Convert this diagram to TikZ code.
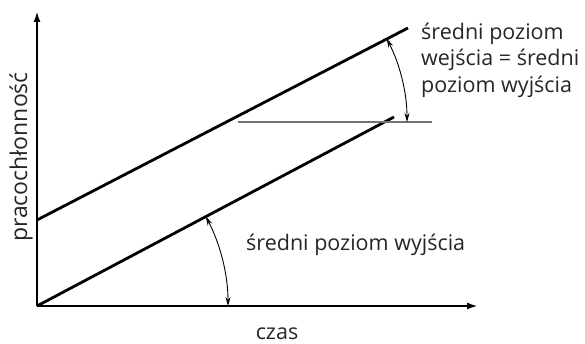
\documentclass[tikz,border=0pt]{standalone}
\usepackage{fontspec}
\setmainfont{Open Sans}
\usetikzlibrary{arrows.meta, positioning}
\colorlet{txtgray}{black!85}

\begin{document}
\begin{tikzpicture}[x=1pt, y=1pt,
    axis/.style={line width=2.2pt, -{Latex[length=11pt, width=7pt]}},
    level/.style={line width=2.8pt},
    guide/.style={line width=1.4pt, black!55},
    angle/.style={line width=0.9pt, {Stealth[length=9pt, width=5pt]}-{Stealth[length=9pt, width=5pt]}},
    lbl/.style={font=\fontsize{21.5}{26.5}\selectfont, text=txtgray, inner sep=0pt}]
  \useasboundingbox (0,0) rectangle (585,343);

  % axes
  \coordinate (origin) at (37,37);
  \coordinate (ytop) at (37,332);
  \coordinate (xend) at (478,37);
  \draw[axis] (origin) -- (ytop);
  \draw[axis] (origin) -- (xend);

  % input and output levels
  \coordinate (instart) at (37,123);
  \coordinate (inend) at (408,315);
  \coordinate (outend) at (394,226);
  \draw[level] (instart) -- (inend);
  \draw[level] (origin) -- (outend);

  % horizontal reference
  \coordinate (hleft) at (238,221);
  \coordinate (hright) at (432,221);
  \draw[guide] (hleft) -- (hright);

  % angle marks
  \coordinate (arcin) at (407,221);
  \coordinate (arcout) at (228,37);
  \draw[angle] (arcin) arc[start angle=0, end angle=27.4, radius=181];
  \draw[angle] (arcout) arc[start angle=0, end angle=27.9, radius=191];

  % labels
  \node[lbl, anchor=west, align=left] (inlabel) at (421,283)
    {średni poziom\\wejścia = średni\\poziom wyjścia};
  \node[lbl, anchor=west] (outlabel) at (246,98) {średni poziom wyjścia};
  \node[lbl, anchor=base] (xlabel) at (277,4) {czas};
  \node[lbl, rotate=90, font=\fontsize{23}{26}\selectfont] (ylabel) at (21,186) {pracochłonność};
\end{tikzpicture}
\end{document}
